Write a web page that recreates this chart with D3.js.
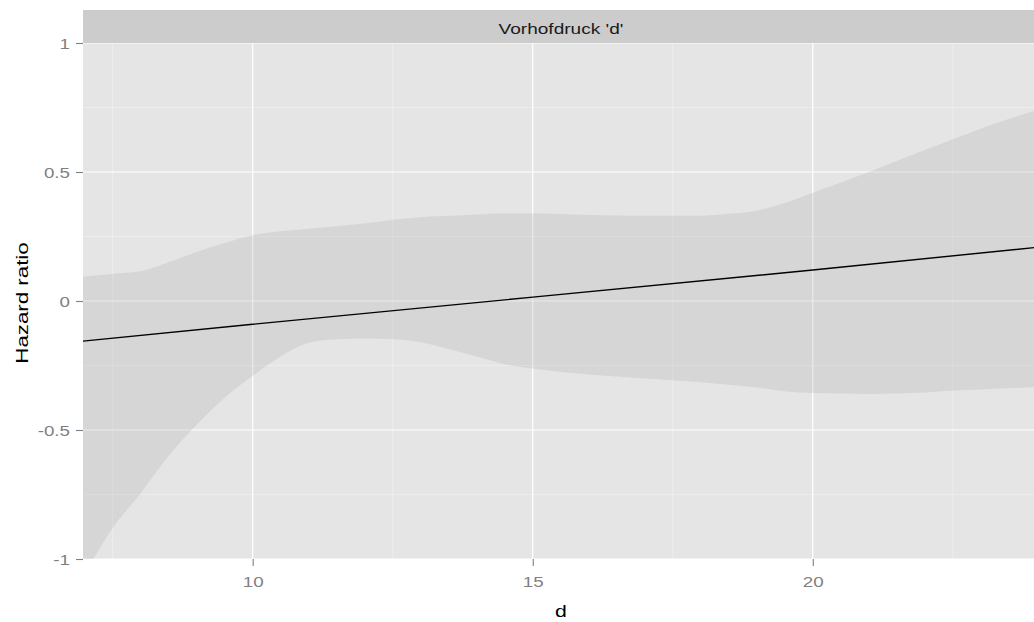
<!DOCTYPE html>
<html>
<head>
<meta charset="utf-8">
<script src="https://cdn.jsdelivr.net/npm/d3@7"></script>
<style>
  body { margin: 0; background: #fff; }
  svg { display: block; font-family: "Liberation Sans", Arial, sans-serif; }
</style>
</head>
<body>
<div id="chart"></div>
<script>
const facetLabel = "Vorhofdruck 'd'"
const xTitle = "d"
const yTitle = "Hazard ratio"

const xTicks = [10, 15, 20]
const xMinor = [7.5, 12.5, 17.5, 22.5]
const yTicks = [1, 0.5, 0, -0.5, -1]
const yTickLabels = ["1", "0.5", "0", "-0.5", "-1"]
const yMinor = [0.75, 0.25, -0.25, -0.75]

// confidence band
const bandD     = [6.9, 7.5, 8, 8.5, 9, 9.5, 10, 10.5, 11, 11.5, 12, 12.5, 13, 13.5, 14, 14.5, 15, 15.5, 16, 17, 18, 18.5, 19, 19.5, 20, 21, 22, 22.5, 23, 24]
const bandUpper = [0.093, 0.105, 0.115, 0.15, 0.19, 0.225, 0.255, 0.27, 0.28, 0.29, 0.30, 0.315, 0.325, 0.33, 0.335, 0.34, 0.34, 0.337, 0.333, 0.33, 0.33, 0.338, 0.35, 0.38, 0.42, 0.50, 0.585, 0.627, 0.668, 0.74]
const bandLower = [-1.1, -0.88, -0.745, -0.6, -0.48, -0.375, -0.29, -0.215, -0.162, -0.148, -0.145, -0.147, -0.16, -0.186, -0.215, -0.245, -0.262, -0.275, -0.285, -0.30, -0.315, -0.325, -0.335, -0.35, -0.357, -0.36, -0.355, -0.347, -0.343, -0.333]

// fitted hazard line
const lineD  = [6.9, 10, 15, 20, 24]
const lineHR = [-0.157, -0.09, 0.015, 0.12, 0.208]

const W = 1034, H = 622
const PANEL = { LEFT: 83, RIGHT: 1039, TOP: 43, BOTTOM: 559 }
const STRIP_TOP = 10
const CENTER_X = (PANEL.LEFT + PANEL.RIGHT) / 2

const svg = d3.select("#chart").append("svg")
  .attr("width", W).attr("height", H)

const x = d3.scaleLinear().domain([6.97, 23.95]).range([83, 1034])
const y = d3.scaleLinear().domain([-1, 1]).range([PANEL.BOTTOM, PANEL.TOP])

// the source image renders its text wider than normal glyphs
function stretch(sel, k) {
  sel.each(function () {
    const len = this.getComputedTextLength()
    d3.select(this).attr("textLength", len * k).attr("lengthAdjust", "spacingAndGlyphs")
  })
}

// strip
svg.append("rect")
  .attr("x", PANEL.LEFT).attr("y", STRIP_TOP)
  .attr("width", PANEL.RIGHT - PANEL.LEFT).attr("height", PANEL.TOP - STRIP_TOP)
  .attr("fill", "#cccccc")
svg.append("text")
  .attr("x", CENTER_X)
  .attr("y", 34)
  .attr("text-anchor", "middle")
  .attr("font-size", 14)
  .attr("fill", "#1a1a1a")
  .text(facetLabel)
  .call(stretch, 1.36)

// panel
svg.append("rect")
  .attr("x", PANEL.LEFT).attr("y", PANEL.TOP)
  .attr("width", PANEL.RIGHT - PANEL.LEFT).attr("height", PANEL.BOTTOM - PANEL.TOP)
  .attr("fill", "#e5e5e5")

svg.append("clipPath").attr("id", "clip")
  .append("rect")
  .attr("x", PANEL.LEFT).attr("y", PANEL.TOP)
  .attr("width", PANEL.RIGHT - PANEL.LEFT).attr("height", PANEL.BOTTOM - PANEL.TOP)

const panel = svg.append("g").attr("clip-path", "url(#clip)")

// grid
panel.selectAll(".xminor").data(xMinor).join("line")
  .attr("x1", d => x(d)).attr("x2", d => x(d))
  .attr("y1", PANEL.TOP).attr("y2", PANEL.BOTTOM)
  .attr("stroke", "#f2f2f2").attr("stroke-width", 0.6)
panel.selectAll(".yminor").data(yMinor).join("line")
  .attr("y1", d => y(d)).attr("y2", d => y(d))
  .attr("x1", PANEL.LEFT).attr("x2", PANEL.RIGHT)
  .attr("stroke", "#f2f2f2").attr("stroke-width", 0.6)
panel.selectAll(".xmajor").data(xTicks).join("line")
  .attr("x1", d => x(d)).attr("x2", d => x(d))
  .attr("y1", PANEL.TOP).attr("y2", PANEL.BOTTOM)
  .attr("stroke", "#ffffff").attr("stroke-width", 1.2)
panel.selectAll(".ymajor").data(yTicks).join("line")
  .attr("y1", d => y(d)).attr("y2", d => y(d))
  .attr("x1", PANEL.LEFT).attr("x2", PANEL.RIGHT)
  .attr("stroke", "#ffffff").attr("stroke-width", 1.2)

// band
const bandData = bandD.map((d, i) => ({ d, lo: bandLower[i], hi: bandUpper[i] }))
const area = d3.area()
  .x(p => x(p.d))
  .y0(p => y(p.lo))
  .y1(p => y(p.hi))
  .curve(d3.curveMonotoneX)
panel.append("path")
  .datum(bandData)
  .attr("d", area)
  .attr("fill", "#999999")
  .attr("fill-opacity", 0.2)

// line
const lineData = lineD.map((d, i) => ({ d, hr: lineHR[i] }))
panel.append("path")
  .datum(lineData)
  .attr("d", d3.line().x(p => x(p.d)).y(p => y(p.hr)))
  .attr("fill", "none")
  .attr("stroke", "#000000")
  .attr("stroke-width", 1.4)

// axes
const xAxis = svg.append("g")
  .attr("transform", `translate(0, ${PANEL.BOTTOM})`)
  .call(d3.axisBottom(x).tickValues(xTicks).tickSize(7).tickPadding(10).tickFormat(d3.format("d")))
const yAxis = svg.append("g")
  .attr("transform", `translate(${PANEL.LEFT}, 0)`)
  .call(d3.axisLeft(y).tickValues(yTicks).tickSize(7).tickPadding(6)
    .tickFormat((d, i) => yTickLabels[i]))

for (const g of [xAxis, yAxis]) {
  g.select(".domain").remove()
  g.selectAll(".tick line").attr("stroke", "#7f7f7f").attr("stroke-width", 1.1)
  g.selectAll(".tick text")
    .attr("fill", "#7f7f7f")
    .attr("font-size", 15)
    .attr("font-family", "'Liberation Sans', Arial, sans-serif")
    .call(stretch, 1.25)
}
yAxis.selectAll(".tick text").attr("dy", "0.36em")

// titles
svg.append("text")
  .attr("x", CENTER_X)
  .attr("y", 617)
  .attr("text-anchor", "middle")
  .attr("font-size", 17)
  .attr("fill", "#000")
  .text(xTitle)
  .call(stretch, 1.25)
svg.append("text")
  .attr("transform", `translate(28, ${y(0) + 2}) rotate(-90)`)
  .attr("text-anchor", "middle")
  .attr("font-size", 16.5)
  .attr("fill", "#000")
  .text(yTitle)
  .call(stretch, 1.35)
</script>
</body>
</html>
